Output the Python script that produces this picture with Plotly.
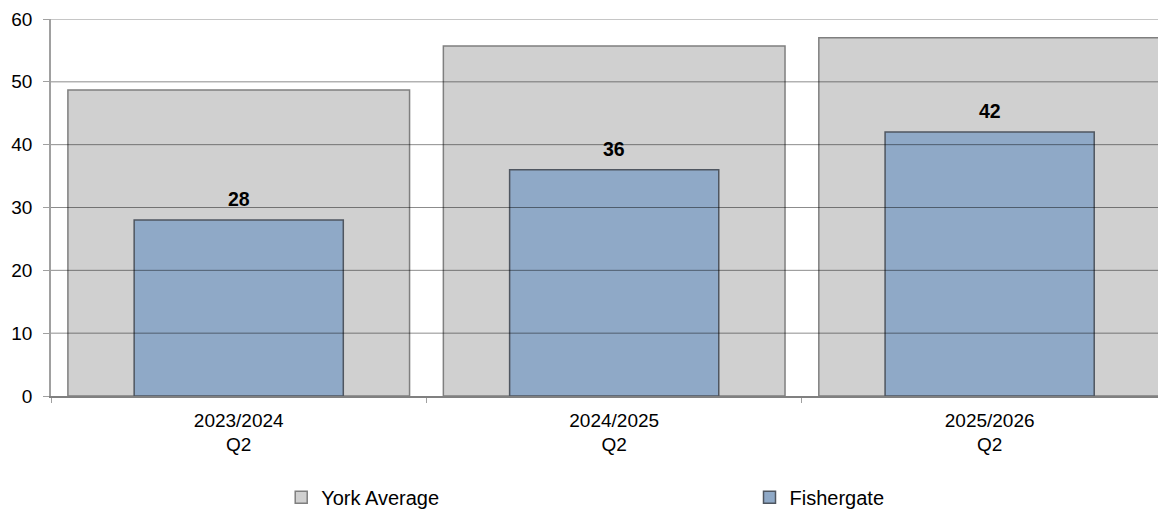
import plotly.graph_objects as go

categories = ["2023/2024<br>Q2", "2024/2025<br>Q2", "2025/2026<br>Q2"]
york_average = [48.7, 55.7, 57.0]
fishergate = [28, 36, 42]
y_ticks = [0, 10, 20, 30, 40, 50, 60]

FONT = "Liberation Sans, Arial, sans-serif"

fig = go.Figure()
fig.add_trace(go.Bar(
    x=categories, y=york_average, name="York Average",
    width=0.91, legend="legend",
    marker=dict(color="#D0D0D0", line=dict(color="#7F7F7F", width=1.5)),
    hoverinfo="y",
))
fig.add_trace(go.Bar(
    x=categories, y=fishergate, name="Fishergate",
    width=0.557, legend="legend2",
    marker=dict(color="#8FA9C7", line=dict(color="#4F5660", width=1.5)),
    hoverinfo="y",
))

for cat, val in zip(categories, fishergate):
    fig.add_annotation(x=cat, y=val, text=f"<b>{val}</b>", showarrow=False,
                       yanchor="bottom", yshift=8,
                       font=dict(family=FONT, size=19.5, color="black"))

for v in y_ticks[1:]:
    fig.add_shape(type="line", xref="paper", yref="y", x0=0, x1=1, y0=v, y1=v,
                  line=dict(color="rgba(0,0,0,0.45)", width=1), layer="above")

legend_common = dict(orientation="h", yref="container", y=0.079, yanchor="top",
                     xanchor="left", bgcolor="rgba(0,0,0,0)",
                     font=dict(family=FONT, size=20, color="black"))

fig.update_layout(
    width=1166, height=510,
    margin=dict(l=43, r=0, t=10.5, b=121.5, autoexpand=False),
    barmode="overlay",
    plot_bgcolor="white", paper_bgcolor="white",
    font=dict(family=FONT, size=19, color="black"),
    showlegend=True,
    legend=dict(x=0.205, **legend_common),
    legend2=dict(x=0.622, **legend_common),
    xaxis=dict(range=[-0.5, 2.491], showgrid=False, showline=True,
               linecolor="#808080", linewidth=1.5, ticks="outside",
               tickson="boundaries", ticklen=5, tickcolor="#A0A0A0",
               ticklabelstandoff=6,
               tickfont=dict(family=FONT, size=19, color="black"),
               fixedrange=True),
    yaxis=dict(range=[0, 60], tickvals=y_ticks, showgrid=False, showline=True,
               linecolor="#A0A0A0", linewidth=1.5, ticks="outside", ticklen=6,
               tickcolor="#A0A0A0", zeroline=False,
               ticklabelstandoff=7,
               tickfont=dict(family=FONT, size=19, color="black")),
)

fig.write_html("out.html")
